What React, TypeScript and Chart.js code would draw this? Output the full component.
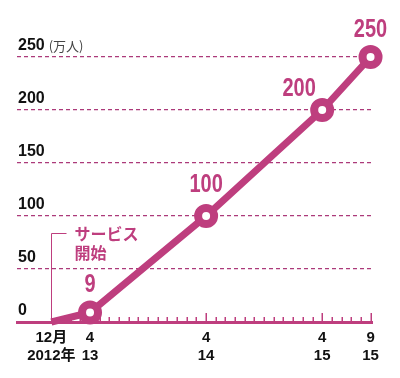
import React, { useEffect, useRef } from 'react';
import { Chart, registerables } from 'chart.js';

Chart.register(...registerables);

// months counted from December 2012
const pointMonths = [0, 4, 16, 28, 33];
const users = [0, 9, 100, 200, 250];
const valueLabels = ['', '9', '100', '200', '250'];

const tickMonths = [0, 4, 16, 28, 33];
const tickTop = ['12月', '4', '4', '4', '9'];
const tickBottom = ['2012年', '13', '14', '15', '15'];
const allMonths = Array.from({ length: 34 }, (_, i) => i);

const yTickValues = [0, 50, 100, 150, 200, 250];
const unitLabel = '(万人)';
const annotation = ['サービス', '開始'];

const MAG = 'rgb(190, 62, 126)';
const GRID = 'rgb(172, 58, 122)';
const SANS = "'Liberation Sans', 'Noto Sans CJK JP', sans-serif";
const CJK = "'Noto Sans CJK JP', sans-serif";

const decor = {
  id: 'decor',
  beforeDatasetsDraw(chart: any) {
    const { ctx, chartArea } = chart;
    const xs = chart.scales.x;
    const base = chartArea.bottom;
    ctx.save();
    ctx.strokeStyle = MAG;
    ctx.lineWidth = 1.5;
    allMonths.forEach((m) => {
      if (m === 0) return;
      const x = Math.round(xs.getPixelForValue(m)) + 0.25;
      const len = tickMonths.includes(m) ? 9 : 5;
      ctx.beginPath();
      ctx.moveTo(x, base);
      ctx.lineTo(x, base - len);
      ctx.stroke();
    });
    // service start annotation
    const x0 = Math.round(xs.getPixelForValue(0)) + 0.5;
    ctx.lineWidth = 1;
    ctx.beginPath();
    ctx.moveTo(x0, base);
    ctx.lineTo(x0, 233.5);
    ctx.lineTo(x0 + 15, 233.5);
    ctx.stroke();
    ctx.fillStyle = MAG;
    ctx.font = `bold 16px ${CJK}`;
    ctx.textAlign = 'left';
    ctx.textBaseline = 'middle';
    ctx.fillText(annotation[0], x0 + 23, 234);
    ctx.fillText(annotation[1], x0 + 23, 253);
    ctx.restore();
  },
  afterDatasetsDraw(chart: any) {
    const { ctx } = chart;
    const meta = chart.getDatasetMeta(0);
    ctx.save();
    ctx.fillStyle = MAG;
    ctx.font = `bold 25px ${SANS}`;
    ctx.textAlign = 'center';
    ctx.textBaseline = 'middle';
    meta.data.forEach((pt: any, i: number) => {
      if (!valueLabels[i]) return;
      let dx = 0;
      let dy = -27;
      if (i === 2) dy = -31;
      if (i === 3) { dx = -23; dy = -21; }
      ctx.save();
      ctx.translate(pt.x + dx, pt.y + dy);
      ctx.scale(0.8, 1);
      ctx.fillText(valueLabels[i], 0, 0);
      ctx.restore();
    });
    // unit next to the top tick label
    const ys = chart.scales.y;
    ctx.font = `bold 16px ${SANS}`;
    const w = ctx.measureText('250').width;
    ctx.font = `13px ${CJK}`;
    ctx.fillStyle = '#444';
    ctx.textAlign = 'left';
    ctx.fillText(unitLabel, chart.chartArea.left + 1 + w + 4, ys.getPixelForValue(250) - 11);
    ctx.restore();
  },
};

export default function App() {
  const ref = useRef<HTMLCanvasElement>(null);
  useEffect(() => {
    const canvas = ref.current!;
    const chart = new Chart(canvas, {
      type: 'line',
      data: {
        datasets: [
          {
            data: pointMonths.map((m, i) => ({ x: m, y: users[i] })),
            borderColor: MAG,
            borderWidth: 7,
            pointRadius: users.map((_, i) => (i === 0 ? 0 : 8)),
            pointBorderWidth: 8,
            pointBackgroundColor: '#fff',
            pointBorderColor: MAG,
            tension: 0,
            clip: false as any,
          },
        ],
      },
      options: {
        responsive: false,
        animation: false,
        events: [],
        devicePixelRatio: 1,
        layout: { padding: { left: 17, right: 28, top: 57, bottom: 0 } },
        plugins: { legend: { display: false }, tooltip: { enabled: false } },
        scales: {
          x: {
            type: 'linear',
            min: -3.55,
            max: 33.15,
            afterBuildTicks: (axis: any) => {
              axis.ticks = tickMonths.map((v) => ({ value: v }));
            },
            afterFit: (scale: any) => {
              scale.height = 56;
            },
            grid: { display: true, drawOnChartArea: false, drawTicks: false },
            border: { display: true, color: MAG, width: 3 },
            ticks: {
              autoSkip: false,
              maxRotation: 0,
              padding: 7,
              color: '#111',
              font: { family: SANS, size: 15, weight: 'bold', lineHeight: 1.2 },
              callback: (v: any) => {
                const i = tickMonths.indexOf(Number(v));
                return i >= 0 ? [tickTop[i], tickBottom[i]] : '';
              },
            },
          },
          y: {
            type: 'linear',
            min: 0,
            max: 250,
            afterBuildTicks: (axis: any) => {
              axis.ticks = yTickValues.map((v) => ({ value: v }));
            },
            afterFit: (scale: any) => {
              scale.width = 0;
            },
            border: { display: false, dash: [4, 3] },
            grid: {
              drawTicks: false,
              color: (c: any) => (c.tick && c.tick.value === 0 ? 'rgba(0,0,0,0)' : GRID),
              lineWidth: 1.2,
            },
            ticks: {
              mirror: true,
              padding: 1,
              labelOffset: -11,
              color: '#111',
              font: { family: SANS, size: 16, weight: 'bold' },
            },
          },
        },
      },
      plugins: [decor],
    } as any);
    return () => chart.destroy();
  }, []);
  return (
    <div style={{ position: 'fixed', left: 0, top: 0, width: 400, height: 378, background: '#fff' }}>
      <canvas ref={ref} width={400} height={378} />
    </div>
  );
}
